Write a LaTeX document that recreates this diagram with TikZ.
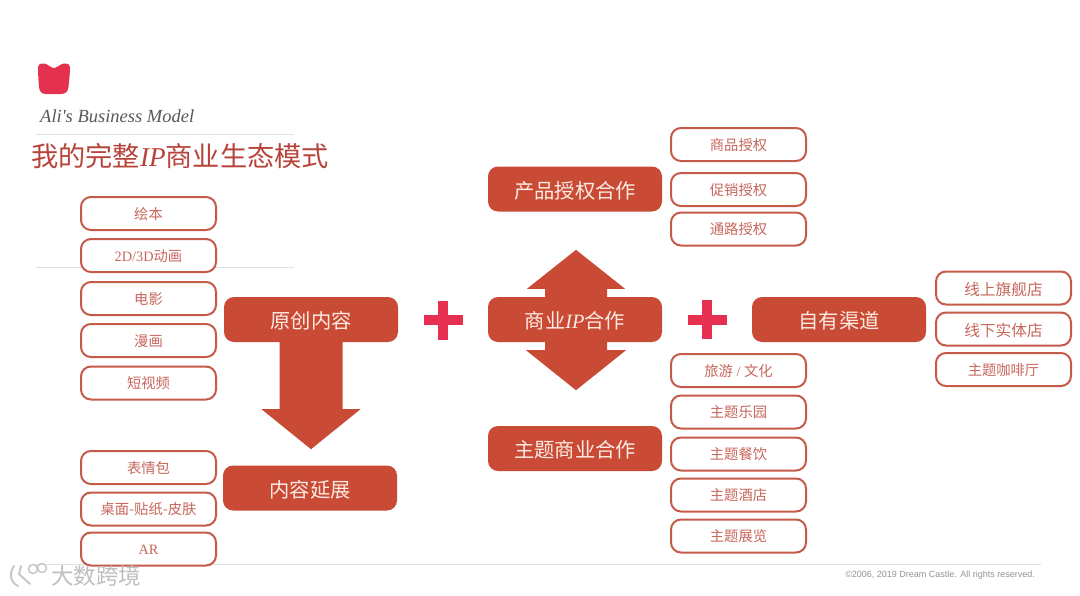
\documentclass[tikz,border=0pt]{standalone}
\usepackage{fontspec}
\setmainfont{Noto Sans CJK SC}
\newfontfamily\lat{Liberation Serif}
\newfontfamily\latsans{Liberation Sans}
\definecolor{brick}{HTML}{C94B35}
\definecolor{brickline}{HTML}{C65A48}
\definecolor{softtext}{HTML}{C8665C}
\definecolor{paletext}{HTML}{FCEBE3}
\definecolor{plusred}{HTML}{E5304F}
\definecolor{titlered}{HTML}{B8433A}
\definecolor{rulegrey}{HTML}{E0E0E0}
\tikzset{
  outbox/.style={draw=brickline,line width=2pt,fill=white,rounded corners=10pt,minimum width=135pt,minimum height=33pt,inner sep=0pt,text=softtext,font=\fontsize{14.3}{16}\selectfont,text height=13.2pt,text depth=1.4pt},
  bigout/.style={outbox,font=\fontsize{15.7}{17}\selectfont,text height=15.4pt},
  solidbox/.style={fill=brick,rounded corners=10pt,minimum width=174pt,minimum height=45pt,inner sep=0pt,text=paletext,font=\fontsize{20.3}{22}\selectfont,text height=19.6pt,text depth=1.4pt},
  blockarrow/.style={fill=brick},
  plusmark/.style={fill=plusred},
  hairline/.style={draw=rulegrey,line width=1pt},
  lbl/.style={inner sep=0pt}
}
\begin{document}
\begin{tikzpicture}[x=1pt,y=-1pt]
\useasboundingbox (0,0) rectangle (1080,595);
\fill[white] (0,0) rectangle (1080,595);
% rules
\draw[hairline] (36,134.5) -- (294,134.5);
\draw[hairline] (36,267) -- (294,267);
\draw[hairline] (36,564) -- (1041,564);
% logo
\fill[plusred] (38,67) .. controls (38,64) and (41,63) .. (44,63.5)
  .. controls (48,64) and (51,68) .. (54,68)
  .. controls (57,68) and (60,64) .. (64,63.5)
  .. controls (67,63) and (70,64) .. (70,67)
  .. controls (70,74) and (69,81) .. (68.5,87)
  .. controls (68,92) and (65,94) .. (61,94)
  -- (46,94) .. controls (42,94) and (39.5,92) .. (39,87)
  .. controls (38.5,81) and (38,74) .. (38,67) -- cycle;
% headings
\node[lbl,anchor=west,text=black!65] (sub) at (40,116) {\lat\itshape\fontsize{18.5}{20}\selectfont Ali's Business Model};
\node[lbl,anchor=west,text=titlered] (title) at (31,156) {\fontsize{27.2}{29}\selectfont 我的完整{\lat\itshape IP}商业生态模式};
% main boxes
\node[solidbox] (orig) at (311,319.5) {原创内容};
\node[solidbox] (ext)  at (310,488) {内容延展};
\node[solidbox] (prod) at (575,189) {产品授权合作};
\node[solidbox] (biz)  at (575,319.5) {商业{\lat\itshape IP}合作};
\node[solidbox] (them) at (575,448.5) {主题商业合作};
\node[solidbox] (own)  at (839,319.5) {自有渠道};
% block arrows
\fill[blockarrow] (orig.south) ++(-31.5,-1) -- ++(63,0) -- ++(0,68) -- ++(18,0) -- ++(-49.5,40) -- ++(-49.5,-40) -- ++(18,0) -- cycle;
\fill[blockarrow] (biz.north) ++(1,-47) -- ++(49,39) -- ++(-18,0) -- ++(0,9) -- ++(-62,0) -- ++(0,-9) -- ++(-18,0) -- cycle;
\fill[blockarrow] (biz.south) ++(1,48) -- ++(50,-40) -- ++(-19,0) -- ++(0,-9) -- ++(-62,0) -- ++(0,9) -- ++(-19,0) -- cycle;
% plus signs
\coordinate (plusa) at (443,320);
\coordinate (plusb) at (707,319.5);
\fill[plusmark] (plusa) ++(-19.5,-5) rectangle ++(39,10);
\fill[plusmark] (plusa) ++(-5,-19.5) rectangle ++(10,39);
\fill[plusmark] (plusb) ++(-19.5,-5) rectangle ++(39,10);
\fill[plusmark] (plusb) ++(-5,-19.5) rectangle ++(10,39);
% left column
\node[outbox] (a1) at (148.5,213.5) {绘本};
\node[outbox] (a2) at (148.5,255.5) {{\lat 2D/3D}动画};
\node[outbox] (a3) at (148.5,298.5) {电影};
\node[outbox] (a4) at (148.5,340.5) {漫画};
\node[outbox] (a5) at (148.5,383) {短视频};
\node[outbox] (b1) at (148.5,467.5) {表情包};
\node[outbox] (b2) at (148.5,509) {桌面-贴纸-皮肤};
\node[outbox] (b3) at (148.5,549) {\lat AR};
% middle column
\node[outbox] (c1) at (738.5,144.5) {商品授权};
\node[outbox] (c2) at (738.5,189.5) {促销授权};
\node[outbox] (c3) at (738.5,229) {通路授权};
\node[outbox] (d1) at (738.5,370.5) {旅游{\lat\ /\ }文化};
\node[outbox] (d2) at (738.5,412) {主题乐园};
\node[outbox] (d3) at (738.5,454) {主题餐饮};
\node[outbox] (d4) at (738.5,495) {主题酒店};
\node[outbox] (d5) at (738.5,536) {主题展览};
% right column
\node[bigout] (e1) at (1003.5,288) {线上旗舰店};
\node[bigout] (e2) at (1003.5,329) {线下实体店};
\node[outbox] (e3) at (1003.5,369.5) {主题咖啡厅};
% footer
\node[lbl,anchor=east,text=black!42] (copy) at (1035,575) {\latsans\fontsize{9}{10}\selectfont ©2006, 2019 Dream Castle. All rights reserved.};
% watermark
\draw[black!22,line width=2pt,line cap=round] (14,566) .. controls (9,573) and (10,582) .. (18,586);
\draw[black!22,line width=2pt,line cap=round] (21,566) -- (19,574) -- (30,584);
\draw[black!22,line width=1.5pt] (33,569) circle (4.5pt);
\draw[black!22,line width=1.5pt] (42,568) circle (4.5pt);
\node[lbl,anchor=west,text=black!25] (mark) at (51,575.5) {\fontsize{22.5}{24}\selectfont 大数跨境};
\end{tikzpicture}
\end{document}
